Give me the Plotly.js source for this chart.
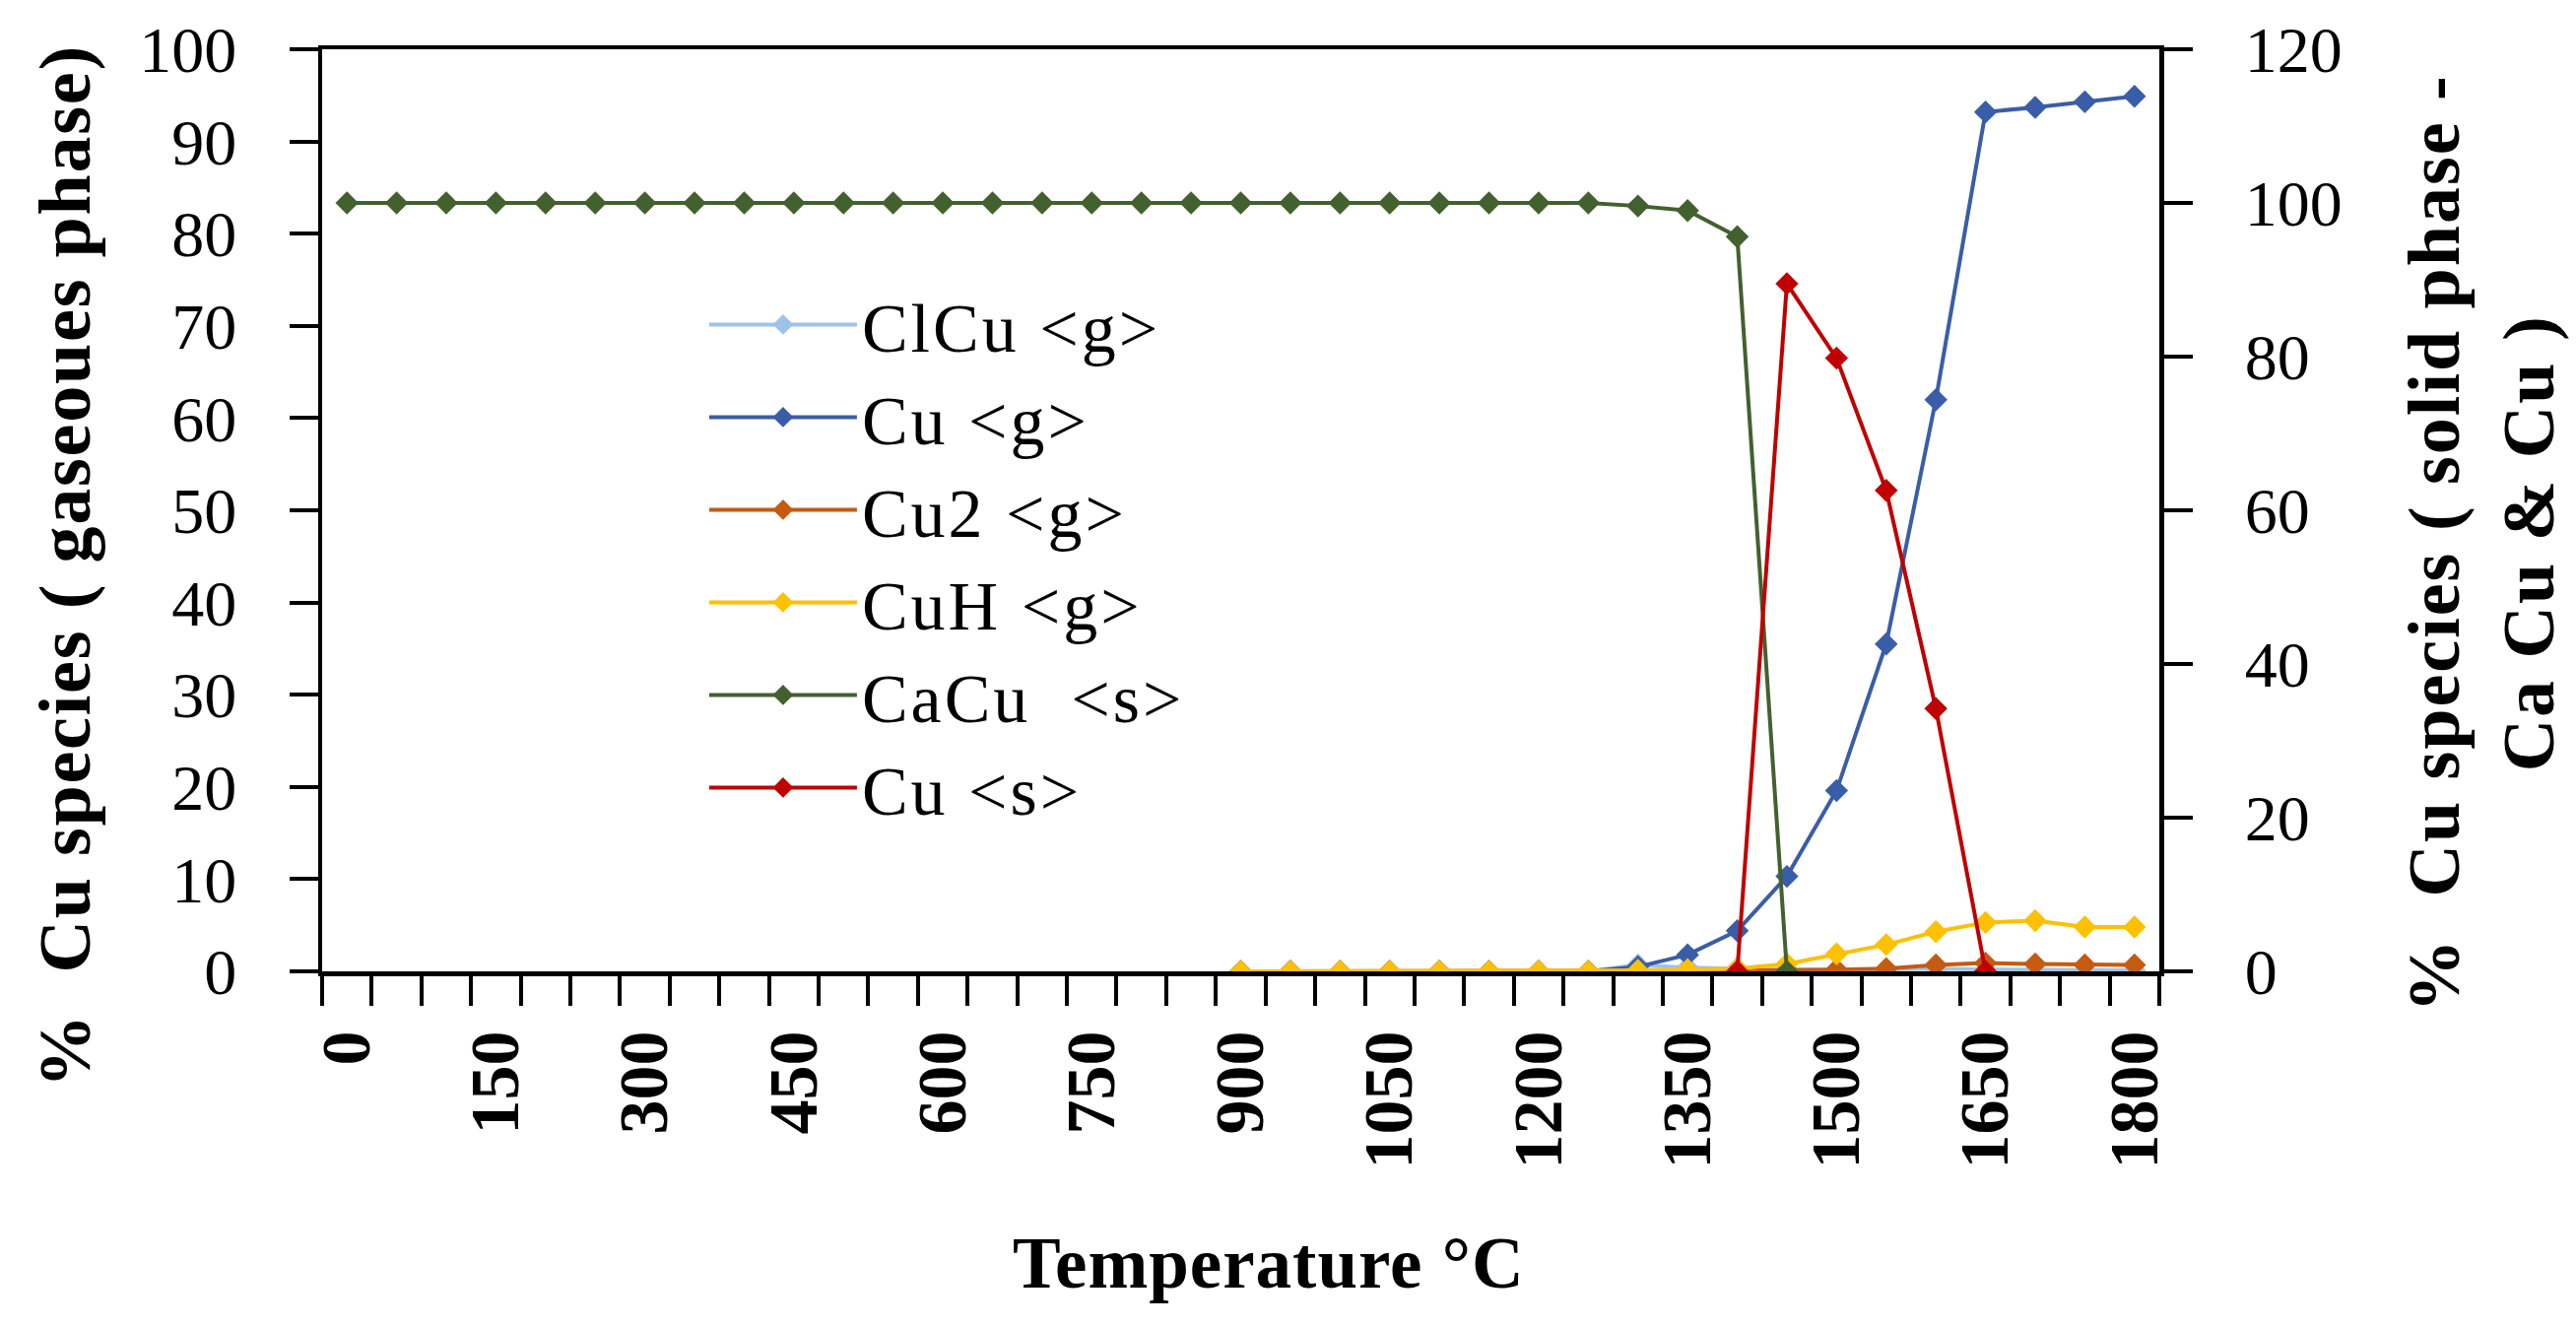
<!DOCTYPE html>
<html>
<head>
<meta charset="utf-8">
<script src="https://cdn.plot.ly/plotly-3.0.1.min.js"></script>
<style>
html,body{margin:0;padding:0;background:#fff;}
#chart{width:2615px;height:1346px;}
.annotation[data-index="0"] .annotation-text{letter-spacing:1.8px;}
.annotation[data-index="1"] .annotation-text{letter-spacing:2px;}
.annotation[data-index="2"] .annotation-text{letter-spacing:1px;}
.legendtext{letter-spacing:3px;}
</style>
</head>
<body>
<div id="chart"></div>
<script>
// Temperature categories (°C)
var temps = [0,50,100,150,200,250,300,350,400,450,500,550,600,650,700,750,800,850,
             900,950,1000,1050,1100,1150,1200,1250,1300,1350,1400,1450,1500,1550,1600,1650,1700,1750,1800];
var tickTemps = [0,150,300,450,600,750,900,1050,1200,1350,1500,1650,1800];

// Gaseous phase (% , left axis) — data start at 900 °C
var clcuG = [null,null,null,null,null,null,null,null,null,null,null,null,null,null,null,null,null,null,
             0,0,0,0,0,0,0,0,0.7,0.4,0.3,0.2,0.2,0.2,0.3,0.2,0.2,0.1,0.1];
var cuG   = [null,null,null,null,null,null,null,null,null,null,null,null,null,null,null,null,null,null,
             0,0,0,0,0,0,0,0,0.5,1.8,4.4,10.3,19.6,35.5,62.0,93.2,93.7,94.3,94.9];
var cu2G  = [null,null,null,null,null,null,null,null,null,null,null,null,null,null,null,null,null,null,
             0,0,0,0,0,0,0,0,0,0,0.1,0.1,0.2,0.3,0.7,0.9,0.8,0.7,0.7];
var cuhG  = [null,null,null,null,null,null,null,null,null,null,null,null,null,null,null,null,null,null,
             0,0,0,0,0,0,0,0,0.1,0.2,0.3,0.8,1.9,2.9,4.3,5.3,5.5,4.8,4.8];

// Solid phase (% , right axis)
var cacuS = [100,100,100,100,100,100,100,100,100,100,100,100,100,100,100,100,100,100,
             100,100,100,100,100,100,100,100,99.6,99.0,95.6,0,null,null,null,null,null,null,null];
var cuS   = [null,null,null,null,null,null,null,null,null,null,null,null,null,null,null,null,null,null,
             null,null,null,null,null,null,null,null,null,null,0,89.5,79.8,62.6,34.2,0,null,null,null];

var seriesNames = ['ClCu &lt;g&gt;','Cu &lt;g&gt;','Cu2 &lt;g&gt;','CuH &lt;g&gt;','CaCu&nbsp; &lt;s&gt;','Cu &lt;s&gt;'];
var seriesColors = ['#9DC3E6','#3A5DA8','#C55A11','#FFC000','#43612F','#C00000'];
var seriesData = [clcuG, cuG, cu2G, cuhG, cacuS, cuS];
var seriesAxis = ['y','y','y','y','y2','y2'];

var leftTitle = '%&nbsp; Cu species ( gaseoues phase)';
var rightTitle = '%&nbsp; Cu species ( solid phase -<br>Ca Cu &amp; Cu )';
var xTitle = 'Temperature °C';

var FONT = 'Liberation Serif, Times New Roman, serif';

var traces = seriesData.map(function(d, i){
  return {
    type: 'scatter', mode: 'lines+markers',
    x: temps, y: d, name: seriesNames[i], yaxis: seriesAxis[i],
    line: {color: seriesColors[i], width: 4},
    marker: {color: seriesColors[i], size: 18, symbol: 'diamond'},
    connectgaps: false
  };
});

var layout = {
  width: 2615, height: 1346,
  margin: {l: 327, r: 423, t: 50, b: 360, pad: 0},
  paper_bgcolor: '#ffffff', plot_bgcolor: '#ffffff',
  font: {family: FONT, color: '#000'},
  showlegend: true,
  legend: {
    x: 0.208, y: 0.757, xanchor: 'left', yanchor: 'top',
    bgcolor: 'rgba(0,0,0,0)', borderwidth: 0,
    font: {family: FONT, size: 70, color: '#000'},
    itemwidth: 150, tracegroupgap: 0
  },
  xaxis: {
    range: [-25, 1825],
    tickmode: 'array', tickvals: tickTemps, ticktext: tickTemps.map(String),
    ticks: '', tickangle: -90,
    tickfont: {family: FONT, size: 70, weight: 'bold', color: '#000'},
    showline: true, linecolor: '#000', linewidth: 4.5, mirror: true,
    showgrid: false, zeroline: false,
    minor: {tick0: -25, dtick: 50, ticks: 'outside', ticklen: 30, tickwidth: 4, tickcolor: '#000', showgrid: false},
    ticklabelstandoff: 28
  },
  yaxis: {
    range: [0, 100], dtick: 10, tick0: 0,
    ticks: 'outside', ticklen: 29, tickwidth: 4, tickcolor: '#000',
    tickfont: {family: FONT, size: 66, color: '#000'},
    showline: true, linecolor: '#000', linewidth: 4.5,
    showgrid: false, zeroline: false,
    ticklabelstandoff: 40
  },
  yaxis2: {
    overlaying: 'y', side: 'right',
    range: [0, 120], dtick: 20, tick0: 0,
    ticks: 'outside', ticklen: 29, tickwidth: 4, tickcolor: '#000',
    tickfont: {family: FONT, size: 66, color: '#000'},
    showline: true, linecolor: '#000', linewidth: 4.5,
    showgrid: false, zeroline: false,
    ticklabelstandoff: 40
  },
  annotations: [
    {text: leftTitle, xref: 'paper', yref: 'paper', x: -0.1399, y: 0.4391,
     xanchor: 'center', yanchor: 'middle', textangle: -90, showarrow: false,
     font: {family: FONT, size: 74, weight: 'bold', color: '#000'}},
    {text: rightTitle, xref: 'paper', yref: 'paper', x: 1.1751, y: 0.4637,
     xanchor: 'center', yanchor: 'middle', textangle: -90, showarrow: false, align: 'center',
     font: {family: FONT, size: 74, weight: 'bold', color: '#000'}},
    {text: xTitle, xref: 'paper', yref: 'paper', x: 0.5153, y: -0.3173,
     xanchor: 'center', yanchor: 'middle', showarrow: false,
     font: {family: FONT, size: 73, weight: 'bold', color: '#000'}}
  ]
};

Plotly.newPlot('chart', traces, layout, {displayModeBar: false, staticPlot: true});
</script>
</body>
</html>
